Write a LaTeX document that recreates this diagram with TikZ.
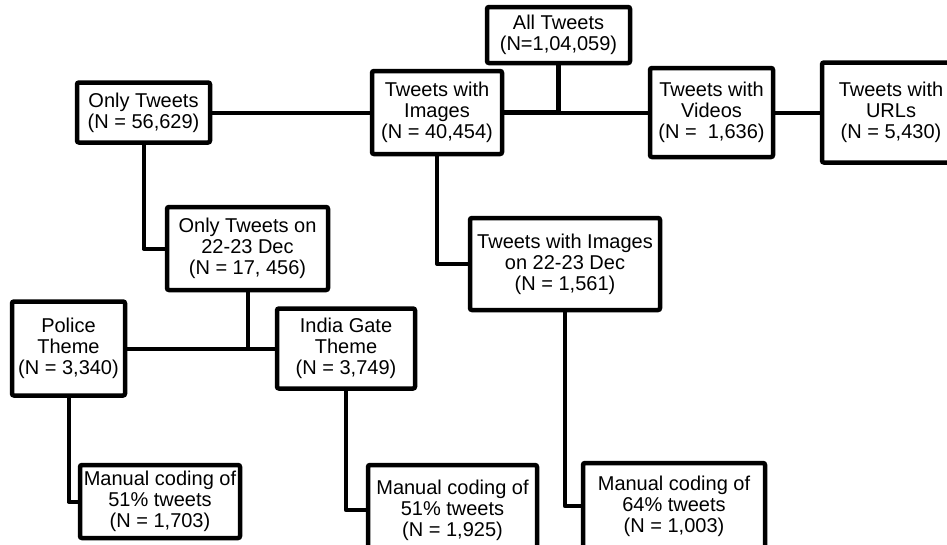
\documentclass[tikz,border=0pt]{standalone}
\usepackage{fontspec}
\setmainfont{Liberation Sans}
\begin{document}
\begin{tikzpicture}[x=1pt,y=-1pt,
  box/.style={draw, line width=4.5pt, rounded corners=2pt, inner sep=0pt, outer sep=0pt,
    align=center, font=\fontsize{20}{21}\selectfont},
  bx/.style n args={2}{box, minimum width=#1pt, minimum height=#2pt},
  conn/.style={line width=4pt, line join=round},
  bigconn/.style={line width=5pt, line join=round}]
\path[use as bounding box, fill=white] (0,0) rectangle (947,544);
\clip (0,0) rectangle (947,544);

% top row
\node[bx={143}{56}] (all) at (558.5,35) {All Tweets\\(N=1,04,059)};
\node[bx={133}{60}] (only) at (143.5,112.5) {Only Tweets\\(N = 56,629)};
\node[bx={130}{83}] (img) at (437,112.5) {Tweets with\\Images\\(N = 40,454)};
\node[bx={123}{89}] (vid) at (711.5,112.5) {Tweets with\\Videos\\(N = \ 1,636)};
\node[bx={138}{100}] (url) at (891,112.5) {Tweets with\\URLs\\(N = 5,430)};

% second level
\node[bx={161}{83}] (onlyd) at (247.5,248.5) {Only Tweets on\\22-23 Dec\\(N = 17, 456)};
\node[bx={190}{92}] (imgd) at (565,264) {Tweets with Images\\on 22-23 Dec\\(N = 1,561)};

% themes
\node[bx={113}{94}] (police) at (68.5,348.5) {Police\\Theme\\(N = 3,340)};
\node[bx={138}{80}] (gate) at (346,348.5) {India Gate\\Theme\\(N = 3,749)};

% manual coding
\node[bx={160}{73}] (m1) at (160,501.5) {Manual coding of\\51\% tweets\\(N = 1,703)};
\node[box, minimum width=169pt, inner ysep=15pt, anchor=north] (m2) at (452.5,465) {Manual coding of\\51\% tweets\\(N = 1,925)};
\node[box, minimum width=182pt, inner ysep=13pt, anchor=north] (m3) at (674,463) {Manual coding of\\64\% tweets\\(N = 1,003)};

% connectors
\coordinate (j1) at (all.south |- img.east);
\draw[bigconn] (all.south) -- (j1);
\draw[bigconn] (img.east) -- (j1);
\draw[conn] (j1) -- (vid.west);
\draw[conn] (vid.east) -- (url.west);
\draw[conn] (only.east) -- (img.west);
\draw[conn] (only.south) |- (onlyd.west);
\draw[conn] (img.south) |- (imgd.west);
\coordinate (j2) at (onlyd.south |- gate.west);
\draw[conn] (onlyd.south) -- (j2);
\draw[conn] (police.east) -- (j2) -- (gate.west);
\draw[conn] (police.south) |- (m1.west);
\draw[conn] (gate.south) |- (m2.west);
\draw[conn] (imgd.south) |- (m3.west);
\end{tikzpicture}
\end{document}
